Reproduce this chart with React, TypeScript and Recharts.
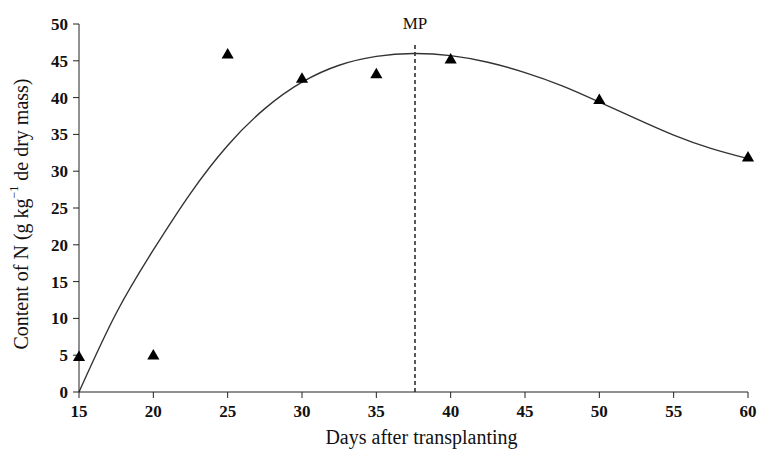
import { ComposedChart, Line, Scatter, XAxis, YAxis, ReferenceLine } from "recharts";

// observed N content (triangles)
const days = [15, 20, 25, 30, 35, 40, 50, 60];
const nContent = [4.7, 4.9, 45.8, 42.5, 43.1, 45.1, 39.6, 31.8];

// fitted curve
const fitDays = [15, 17.5, 20, 22.5, 25, 27.5, 30, 32.5, 35, 37.5, 40, 42.5, 45, 47.5, 50, 52.5, 55, 57.5, 60];
const fitValues = [0, 10.7, 19.3, 27.0, 33.5, 38.5, 42.1, 44.4, 45.6, 46.0, 45.7, 44.8, 43.4, 41.6, 39.4, 37.1, 34.9, 33.1, 31.7];

const xTicks = [15, 20, 25, 30, 35, 40, 45, 50, 55, 60];
const yTicks = [0, 5, 10, 15, 20, 25, 30, 35, 40, 45, 50];
const mpDay = 37.6;
const mpTop = 47.5;

const points = days.map((d, i) => ({ day: d, n: nContent[i] }));
const fit = fitDays.map((d, i) => ({ day: d, fit: fitValues[i] }));

const serif = "'Liberation Serif', 'Times New Roman', serif";
const tickStyle = { fontFamily: serif, fontSize: 17, fontWeight: 700, fill: "#111" };

const YTitle = ({ viewBox }: any) => {
  const cx = viewBox.x + 21;
  const cy = viewBox.y + viewBox.height / 2 + 6;
  return (
    <text
      x={cx}
      y={cy}
      transform={`rotate(-90, ${cx}, ${cy})`}
      textAnchor="middle"
      dominantBaseline="central"
      fontFamily={serif}
      fontSize={20}
      fill="#111"
    >
      <tspan>Content of N (g kg</tspan>
      <tspan dy={-7} fontSize={12}>−1</tspan>
      <tspan dy={7}> de dry mass)</tspan>
    </text>
  );
};

const XTitle = ({ viewBox }: any) => (
  <text
    x={viewBox.x + viewBox.width / 2 + 8}
    y={viewBox.y + 52}
    textAnchor="middle"
    fontFamily={serif}
    fontSize={20}
    fill="#111"
  >
    Days after transplanting
  </text>
);

export default function App() {
  return (
    <div style={{ position: "absolute", left: 0, top: 0, background: "#fff" }}>
      <ComposedChart width={760} height={451} margin={{ top: 24, right: 12, bottom: 0, left: 0 }}>
        <XAxis
          dataKey="day"
          type="number"
          domain={[15, 60]}
          ticks={xTicks}
          allowDuplicatedCategory={false}
          height={59}
          tickSize={6}
          tickMargin={7}
          tick={tickStyle}
          stroke="#222"
          label={<XTitle />}
        />
        <YAxis
          type="number"
          domain={[0, 50]}
          ticks={yTicks}
          width={79}
          tickSize={6}
          tickMargin={5}
          tick={tickStyle}
          stroke="#222"
          label={<YTitle />}
        />
        <ReferenceLine
          segment={[{ x: mpDay, y: 0 }, { x: mpDay, y: mpTop }]}
          stroke="#222"
          strokeWidth={1.5}
          strokeDasharray="4 3"
          label={{ value: "MP", position: "top", offset: 13, fontFamily: serif, fontSize: 17, fill: "#111" }}
        />
        <Line
          data={fit}
          dataKey="fit"
          type="natural"
          stroke="#333"
          strokeWidth={1.4}
          dot={false}
          isAnimationActive={false}
        />
        <Scatter
          data={points}
          dataKey="n"
          shape="triangle"
          fill="#000"
          size={64}
          isAnimationActive={false}
        />
      </ComposedChart>
    </div>
  );
}
